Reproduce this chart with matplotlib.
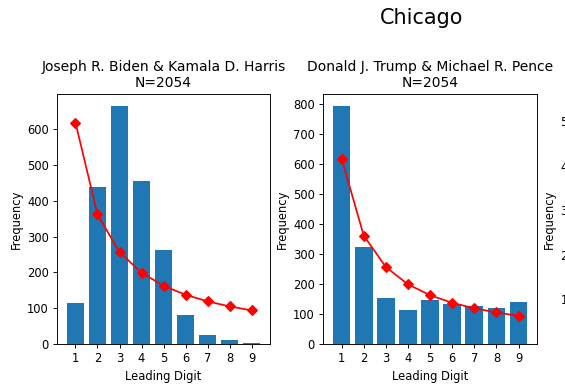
import numpy as np
import matplotlib
matplotlib.use('Agg')
import matplotlib.pyplot as plt

digits = [1, 2, 3, 4, 5, 6, 7, 8, 9]
n_total = 2054

biden_counts = [115, 438, 665, 455, 262, 80, 24, 11, 4]
trump_counts = [794, 325, 154, 115, 146, 132, 128, 120, 140]
# third panel sits mostly outside the crop, only its y ticks peek in
third_counts = [535, 300, 200, 150, 120, 100, 90, 80, 70]

titles = ['Joseph R. Biden & Kamala D. Harris', 'Donald J. Trump & Michael R. Pence']

benford = [n_total * np.log10(1 + 1 / d) for d in digits]

dpi = 83
fig = plt.figure(figsize=(565 / dpi, 386 / dpi), dpi=dpi)
ax1 = fig.add_axes([0.1009, 0.1088, 0.377, 0.6477])
ax2 = fig.add_axes([0.5717, 0.1088, 0.379, 0.6477])
ax3 = fig.add_axes([1.0445, 0.1088, 0.379, 0.6477])

for ax, counts, title in zip([ax1, ax2], [biden_counts, trump_counts], titles):
    ax.bar(digits, counts)
    ax.plot(digits, benford, color='red', marker='D', markersize=6.5)
    ax.set_xticks(digits)
    ax.set_xlabel('Leading Digit')
    ax.set_ylabel('Frequency')
    ax.set_title(title + '\nN=' + str(n_total))

ax3.bar(digits, third_counts)
ax3.set_xticks(digits)
ax3.set_ylabel('Frequency')

fig.text(0.747, 0.953, 'Chicago', fontsize=18, ha='center', va='center')

fig.savefig('out.png', dpi=dpi)
